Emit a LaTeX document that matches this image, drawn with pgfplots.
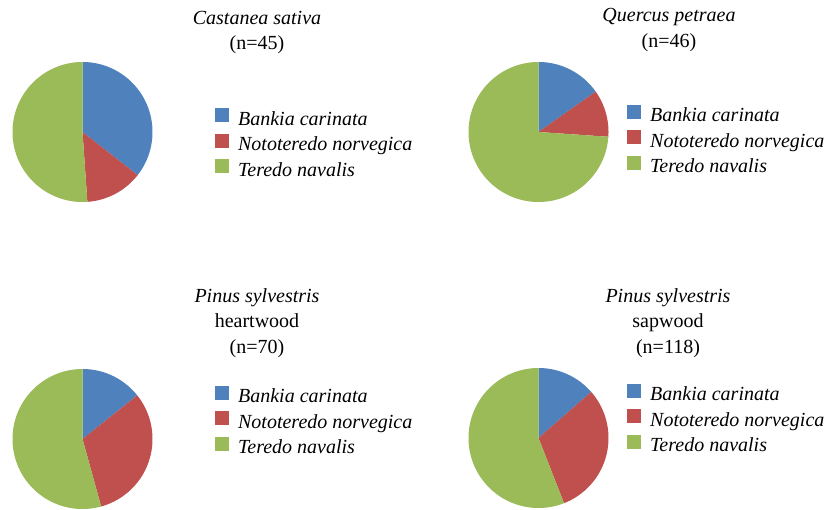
\documentclass[border=0pt]{standalone}
\usepackage{fontspec}
\setmainfont{Liberation Serif}
\usepackage{pgfplots}
\pgfplotsset{compat=1.18}
\usepgfplotslibrary{polar}
\definecolor{cB}{HTML}{4F81BD}
\definecolor{cR}{HTML}{C0504D}
\definecolor{cG}{HTML}{9BBB59}

% #1 cx, #2 cy, #3 Bankia, #4 Nototeredo, #5 Teredo, #6 legend x (desc), #7 legend y (desc)
\newcommand{\pie}[7]{%
\pgfmathsetmacro\pieN{#3+#4+#5}%
\pgfmathsetmacro\angA{90-360*(#3/\pieN)}%
\pgfmathsetmacro\angB{90-360*((#3+#4)/\pieN)}%
\begin{polaraxis}[at={(#1bp,#2bp)}, anchor=center, hide axis, scale only axis,
  width=140bp, height=140bp, ymin=0, ymax=1, clip=false,
  legend style={at={(#6,#7)}, anchor=west, draw=none, fill=none, inner sep=0pt,
    row sep=4.5bp, column sep=9bp, font=\fontsize{20bp}{25bp}\selectfont\itshape,
    nodes={inner sep=0pt, text height=13bp, text depth=4bp}, cells={anchor=west}},
  legend image code/.code={\fill[##1] (0bp,-1.5bp) rectangle (14bp,12.5bp);}]
\addplot[fill=cB, draw=none, domain=\angA:90, samples=80] {1} -- (axis cs:0,0) -- cycle;
\addlegendentry{Bankia carinata}
\addplot[fill=cR, draw=none, domain=\angB:\angA, samples=80] {1} -- (axis cs:0,0) -- cycle;
\addlegendentry{Nototeredo norvegica}
\addplot[fill=cG, draw=none, domain=-270:\angB, samples=160] {1} -- (axis cs:0,0) -- cycle;
\addlegendentry{Teredo navalis}
\end{polaraxis}}

\begin{document}
\begin{tikzpicture}[font=\fontsize{20bp}{25bp}\selectfont]
\path[use as bounding box] (0,0) rectangle (828bp,510bp);
% top left: Castanea sativa (n=45)
\pie{82.5}{378}{16}{6}{23}{1.446}{0.414}
% top right: Quercus petraea (n=46)
\pie{538.5}{378}{7}{5}{34}{1.132}{0.436}
% bottom left: Pinus sylvestris heartwood (n=70)
\pie{82.5}{71}{10}{22}{38}{1.446}{0.622}
% bottom right: Pinus sylvestris sapwood (n=118)
\pie{538.5}{72}{16}{36}{66}{1.132}{0.629}
% titles
\node[anchor=base] at (257bp,485bp) {\itshape Castanea sativa};
\node[anchor=base] at (257bp,460bp) {(n=45)};
\node[anchor=base] at (669bp,488bp) {\itshape Quercus petraea};
\node[anchor=base] at (669bp,462bp) {(n=46)};
\node[anchor=base] at (257bp,207bp) {\itshape Pinus sylvestris};
\node[anchor=base] at (257bp,182bp) {heartwood};
\node[anchor=base] at (257bp,156bp) {(n=70)};
\node[anchor=base] at (668bp,207bp) {\itshape Pinus sylvestris};
\node[anchor=base] at (668bp,182bp) {sapwood};
\node[anchor=base] at (668bp,156bp) {(n=118)};
\end{tikzpicture}
\end{document}
